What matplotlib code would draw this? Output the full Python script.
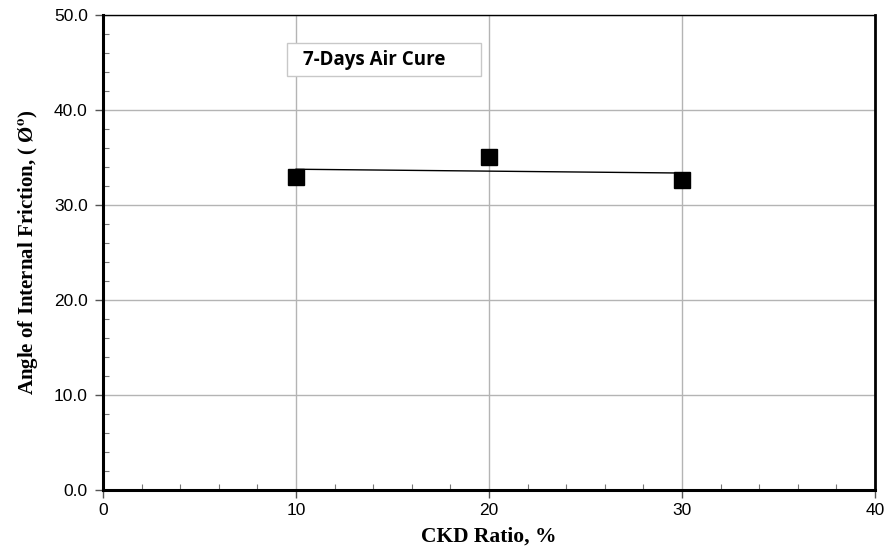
import numpy as np
import matplotlib.pyplot as plt
from matplotlib.ticker import MultipleLocator
from matplotlib.patches import Rectangle

plt.rcParams['mathtext.fontset'] = 'stix'

# data
ckd_ratio = [10, 20, 30]
friction_angle = [33.0, 35.1, 32.6]
x_ticks = [0, 10, 20, 30, 40]
y_ticks = [0, 10, 20, 30, 40, 50]

fig = plt.figure(figsize=(8.87, 5.48), dpi=100)
ax = fig.add_axes([0.1161, 0.1058, 0.8704, 0.8668])

# linear trendline, like the spreadsheet one
coef = np.polyfit(ckd_ratio, friction_angle, 1)
xs = np.array([ckd_ratio[0], ckd_ratio[-1]])
ax.plot(xs, np.polyval(coef, xs), color='black', lw=1.0, zorder=3)
ax.plot(ckd_ratio, friction_angle, ls='none', marker='s', ms=11,
        color='black', zorder=4)

ax.set_xlim(0, 40)
ax.set_ylim(0, 50)
ax.set_xticks(x_ticks)
ax.set_yticks(y_ticks)
ax.set_yticklabels([f'{v:.1f}' for v in y_ticks])
ax.xaxis.set_minor_locator(MultipleLocator(2))
ax.yaxis.set_minor_locator(MultipleLocator(2))
ax.tick_params(which='major', direction='out', length=6, width=1,
               labelsize=12.5, color='#555555')
ax.tick_params(axis='y', which='major', pad=5)
ax.tick_params(which='minor', direction='in', length=4, width=0.8,
               color='#777777')
for lbl in ax.get_xticklabels() + ax.get_yticklabels():
    lbl.set_family('Liberation Sans')

ax.grid(which='major', color='#b4b4b4', lw=1.0)
ax.set_axisbelow(True)

ax.spines['left'].set_linewidth(2.2)
ax.spines['bottom'].set_linewidth(2.2)
ax.spines['top'].set_linewidth(1.0)
ax.spines['right'].set_linewidth(2.0)

ax.set_xlabel('CKD Ratio, %', family='Liberation Serif', weight='bold',
              fontsize=15.5, labelpad=6)
ax.set_ylabel('Angle of Internal Friction, ( Ø$^{\\mathbf{o}}$)',
              family='Liberation Serif', weight='bold', fontsize=15,
              labelpad=10)

# caption box
ax.add_patch(Rectangle((0.2383, 0.8716), 0.2513, 0.0694, transform=ax.transAxes,
                       fc='white', ec='#c8c8c8', lw=1, zorder=5))
ax.text(0.259, 0.9063, '7-Days Air Cure', transform=ax.transAxes,
        family='Open Sans', weight='bold', fontsize=13.5, va='center',
        ha='left', zorder=6)

fig.savefig('out.png', dpi=100)
